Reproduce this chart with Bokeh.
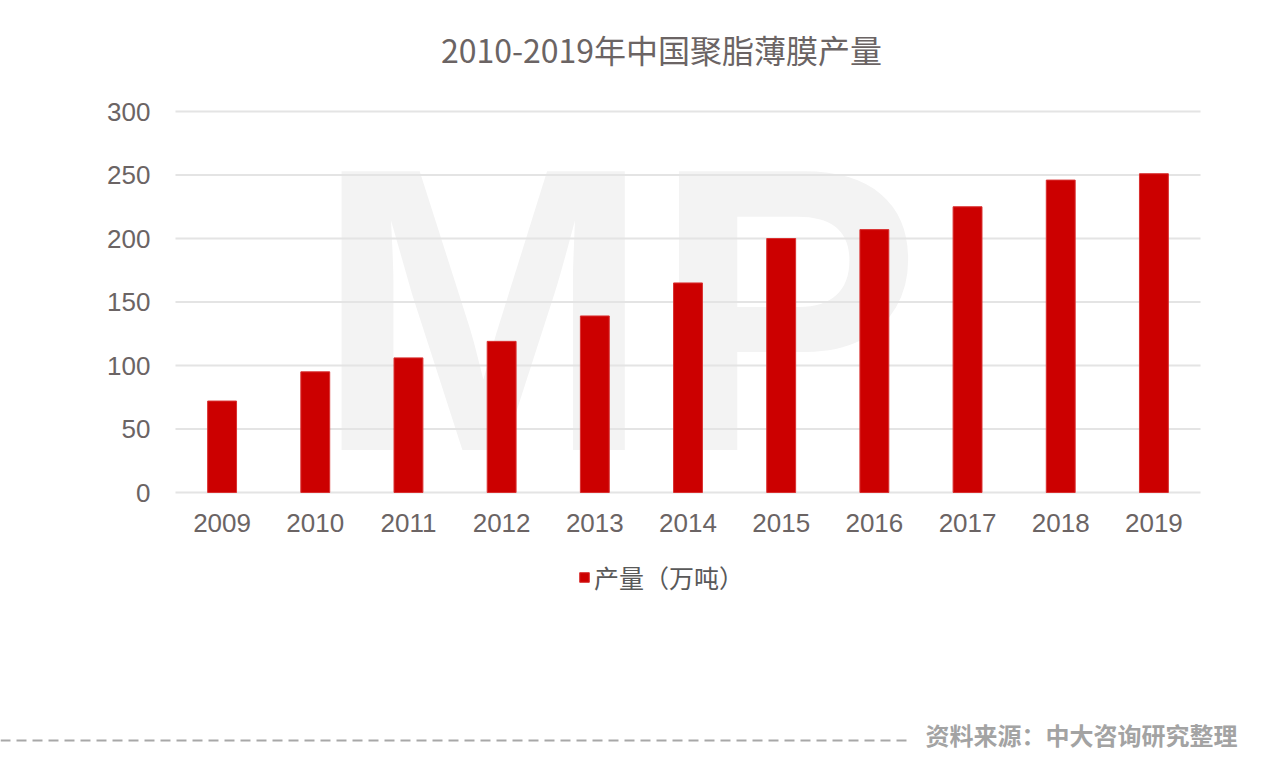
from bokeh.plotting import figure
from bokeh.models import (ColumnDataSource, FixedTicker, Legend, LegendItem,
                          Label, Arrow, Range1d)
from bokeh.embed import file_html
from bokeh.resources import INLINE

years = ["2009", "2010", "2011", "2012", "2013", "2014", "2015",
         "2016", "2017", "2018", "2019"]
output = [72, 95, 106, 119, 139, 165, 200, 207, 225, 246, 251]
y_ticks = [0, 50, 100, 150, 200, 250, 300]
title_text = "2010-2019年中国聚脂薄膜产量"
series_name = "产量（万吨）"
source_text = "资料来源：中大咨询研究整理"

W, H = 1254, 751
# picture geometry: plot area 175..1200 wide, value 0 at y=492, 300 at y=111
CAT_W = (1200 - 175) / len(years)
X0_PX = 175 + CAT_W / 2
PX_PER_UNIT = (492 - 111) / 300.0


def xd(px):
    return (px - X0_PX) / CAT_W


def yd(py):
    return (492 - py) / PX_PER_UNIT


xs = list(range(len(years)))
src = ColumnDataSource(data=dict(x=xs, value=output))

p = figure(width=W, height=H, output_backend="svg", toolbar_location=None,
           x_range=Range1d(xd(0), xd(W)), y_range=Range1d(yd(H), yd(0)),
           min_border_left=0, min_border_right=0, min_border_top=0,
           min_border_bottom=0)
p.outline_line_color = None
p.background_fill_color = "white"
p.grid.visible = False

# faint watermark
wm = Label(x=xd(314), y=yd(309), text="MP", text_baseline="middle",
           text_font="Liberation Sans", text_font_style="bold",
           text_font_size="405px", text_color="#f3f3f3", level="image")
p.add_layout(wm)

# horizontal gridlines spanning the category area
p.segment(x0=-0.5, x1=len(years) - 0.5, y0=y_ticks, y1=y_ticks,
          line_color="#e4e4e4", line_width=2, level="underlay")

r = p.vbar(x="x", top="value", width=0.31, source=src,
           fill_color="#cc0000", line_color="#d93030", line_width=1)

p.xaxis.fixed_location = 0
p.yaxis.fixed_location = -0.5
p.xaxis.ticker = FixedTicker(ticks=xs)
p.xaxis.major_label_overrides = {i: y for i, y in zip(xs, years)}
p.yaxis.ticker = FixedTicker(ticks=y_ticks)

for ax in (p.xaxis[0], p.yaxis[0]):
    ax.axis_line_color = None
    ax.major_tick_line_color = None
    ax.minor_tick_line_color = None
    ax.major_label_text_font = "Liberation Sans"
    ax.major_label_text_font_size = "26px"
    ax.major_label_text_color = "#6b6464"
p.yaxis.major_label_standoff = 19
p.xaxis.major_label_standoff = 15

# title
title = Label(x=xd(661), y=yd(48), text=title_text, text_align="center",
              text_baseline="middle", text_font="Noto Sans CJK SC",
              text_font_size="32px", text_color="#6b6464")
p.add_layout(title)

legend = Legend(items=[LegendItem(label=series_name, renderers=[r])],
                location=(578, 156), orientation="horizontal",
                glyph_width=12, glyph_height=12,
                label_text_font="Noto Sans CJK SC",
                label_text_font_size="25px", label_text_color="#595959",
                border_line_color=None, background_fill_alpha=0,
                margin=0, padding=4, label_standoff=4)
p.add_layout(legend, "center")

# footer: dashed rule + source note
rule = Arrow(x_start=xd(0), y_start=yd(740), x_end=xd(912), y_end=yd(740),
             end=None, line_color="#a8a8a8", line_width=2, line_dash="10 6")
p.add_layout(rule)
note = Label(x=xd(925), y=yd(734), text=source_text,
             text_font="Noto Sans CJK SC", text_font_style="bold",
             text_font_size="24px", text_color="#a3a3a3",
             text_baseline="middle")
p.add_layout(note)

open("out.html", "w").write(file_html(p, INLINE))
